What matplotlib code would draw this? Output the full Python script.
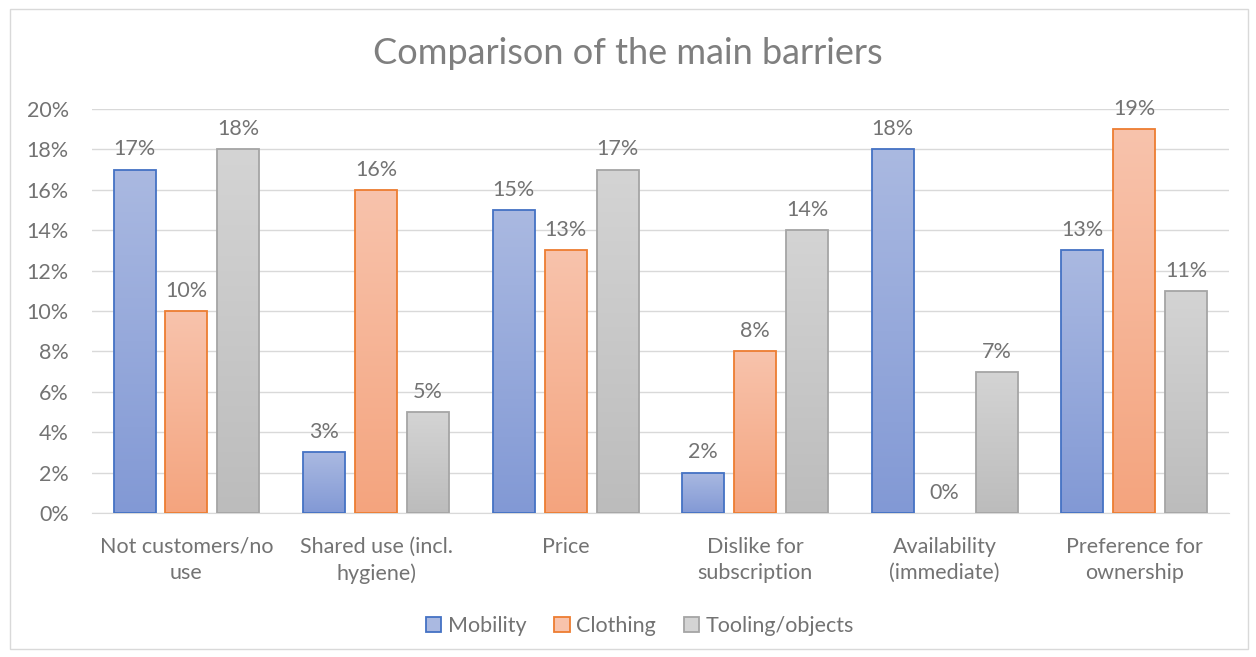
import numpy as np
import matplotlib
matplotlib.use("Agg")
import matplotlib.pyplot as plt
from matplotlib.patches import Rectangle, Patch
from matplotlib.colors import LinearSegmentedColormap

categories = ["Not customers/no\nuse", "Shared use (incl.\nhygiene)", "Price",
              "Dislike for\nsubscription", "Availability\n(immediate)", "Preference for\nownership"]
series = ["Mobility", "Clothing", "Tooling/objects"]
mobility = [17, 3, 15, 2, 18, 13]
clothing = [10, 16, 13, 8, 0, 19]
tooling = [18, 5, 17, 14, 7, 11]

# (top colour, bottom colour, edge colour)
styles = [("#AAB9E1", "#8299D5", "#4472C4"),
          ("#F8C3AC", "#F4A47E", "#ED7D31"),
          ("#D4D4D4", "#BCBCBC", "#A5A5A5")]
TXT = "#737373"
FONT = ["Lato", "DejaVu Sans"]
plt.rcParams["font.family"] = FONT
FS = 15.5

fig = plt.figure(figsize=(12.56, 6.57), dpi=100)
ax = fig.add_axes([91.7 / 1256, 1 - 513 / 657, (1229 - 91.7) / 1256, (513 - 109) / 657])

x = np.arange(len(categories))
w = 0.2215
offs = [-0.274, 0, 0.274]
grad = np.linspace(0, 1, 256).reshape(-1, 1)

for vals, off, (top, bot, edge) in zip([mobility, clothing, tooling], offs, styles):
    cmap = LinearSegmentedColormap.from_list("g", [bot, top])
    for xi, v in zip(x, vals):
        if v > 0:
            im = ax.imshow(grad, cmap=cmap, aspect="auto", origin="lower",
                           extent=[xi + off - w / 2, xi + off + w / 2, 0, v], zorder=2)
            r = Rectangle((xi + off - w / 2, 0), w, v, facecolor="none",
                          edgecolor=edge, linewidth=1.3, zorder=3)
            ax.add_patch(r)
            im.set_clip_path(r)
        ax.text(xi + off, v + 0.5, f"{v}%", ha="center", va="bottom",
                fontsize=FS, color=TXT, zorder=4)

ax.set_xlim(-0.5, len(categories) - 0.5)
ax.set_ylim(0, 20)
ax.set_yticks(np.arange(0, 21, 2))
ax.set_yticklabels([f"{t}%" for t in range(0, 21, 2)])
ax.set_xticks(x)
ax.set_xticklabels(categories, linespacing=1.42)
ax.tick_params(axis="both", length=0, labelsize=FS, colors=TXT)
ax.tick_params(axis="y", pad=16.5)
ax.tick_params(axis="x", pad=17)
ax.grid(axis="y", color="#D9D9D9", linewidth=1, zorder=0)
ax.set_axisbelow(True)
for s in ["top", "right", "left"]:
    ax.spines[s].set_visible(False)
ax.spines["bottom"].set_color("#D9D9D9")
ax.spines["bottom"].set_zorder(1)

fig.text(0.5, 1 - 54 / 657, "Comparison of the main barriers", ha="center", va="center",
         fontsize=26, color="#7F7F7F")

handles = [Patch(facecolor=top, edgecolor=edge, linewidth=1.3) for top, bot, edge in styles]
fig.legend(handles, series, loc="center", bbox_to_anchor=(0.5 + 12 / 1256, 1 - 626 / 657), ncol=3,
           frameon=False, fontsize=FS, labelcolor=TXT, handlelength=0.7, handleheight=0.7,
           handletextpad=0.3, columnspacing=1.3)

fig.add_artist(Rectangle((10 / 1256, 8 / 657), 1238 / 1256, 640 / 657,
                         transform=fig.transFigure, fill=False, edgecolor="#D9D9D9", linewidth=1))

fig.savefig("out.png", dpi=100, facecolor="white")
